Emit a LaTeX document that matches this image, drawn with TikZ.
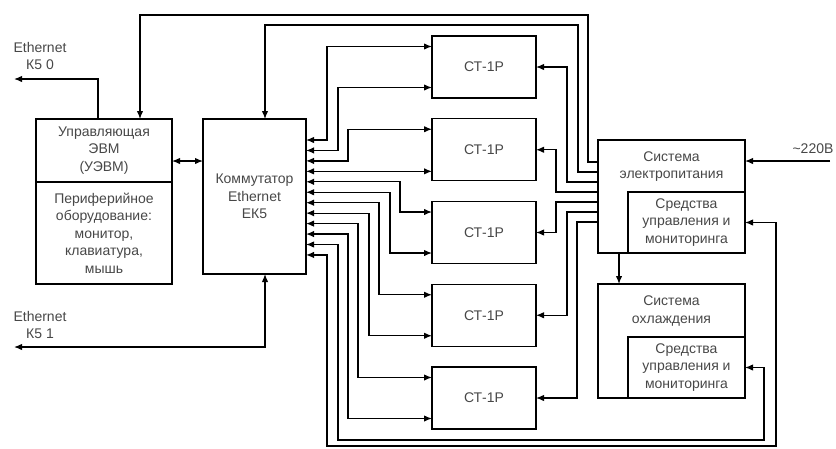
\documentclass[tikz,border=0pt]{standalone}
\usepackage{fontspec}
\setmainfont{Liberation Sans}
\usetikzlibrary{positioning, calc, arrows.meta}
\tikzset{
    blk/.style={draw, line width=1.3pt, inner sep=0pt, outer sep=0pt, align=center,
        font=\fontsize{14}{17.5}\selectfont, text=black!72},
    ctbox/.style={blk, minimum width=104pt, minimum height=62pt},
    txt/.style={inner sep=0pt, align=center, font=\fontsize{14}{17.5}\selectfont, text=black!72},
    link/.style={line width=1.3pt, -{Latex[length=8pt,width=6.5pt]}},
    link2/.style={line width=1.3pt, {Latex[length=8pt,width=6.5pt]}-{Latex[length=8pt,width=6.5pt]}}
}

\begin{document}
\begin{tikzpicture}[x=1pt, y=-1pt]
    \useasboundingbox (0,0) rectangle (836,448);

    % ---------------- CONTROL COMPUTER ---------------- %
    \node[blk, minimum width=136pt, minimum height=63pt] (uevm) at (104,150.5)
        {Управляющая\\ЭВМ\\(УЭВМ)};
    \node[blk, minimum width=136pt, minimum height=102pt, below=0pt of uevm] (periph)
        {Периферийное\\оборудование:\\монитор,\\клавиатура,\\мышь};

    % ---------------- SWITCH ---------------- %
    \node[blk, minimum width=103pt, minimum height=155pt] (sw) at (254.5,196.5)
        {Коммутатор\\Ethernet\\ЕК5};

    % ---------------- NODES CT-1P ---------------- %
    \foreach \i in {1,...,5}
        \node[ctbox] (ct\i) at (484,{67+82.75*(\i-1)}) {СТ-1Р};
    \foreach \i in {1,...,5} {
        \coordinate (ctu\i) at ($(ct\i.west)+(0,-20.5)$);
        \coordinate (ctd\i) at ($(ct\i.west)+(0,20.5)$);
    }

    % ---------------- POWER AND COOLING ---------------- %
    \node[blk, minimum width=147pt, minimum height=113pt] (pwr) at (671.5,196.5) {};
    \node[txt] (pwrtitle) at (671.5,166.5) {Система\\электропитания};
    \node[blk, minimum width=117pt, minimum height=61pt, anchor=south east] (pwrmon)
        at (pwr.south east) {Средства\\управления и\\мониторинга};

    \node[blk, minimum width=147pt, minimum height=114pt] (cool) at (671.5,341) {};
    \node[txt] (cooltitle) at (671.5,311) {Система\\охлаждения};
    \node[blk, minimum width=117pt, minimum height=61pt, anchor=south east] (coolmon)
        at (cool.south east) {Средства\\управления и\\мониторинга};

    % Ports
    \foreach \k in {0,...,11}
        \coordinate (p\k) at ($(sw.north east)+(0,{21+10.45*\k})$);
    \foreach \k in {0,...,6}
        \coordinate (q\k) at ($(pwr.north west)+(0,{22+10*\k})$);

    % ---------------- ETHERNET LINKS ---------------- %
    \coordinate (eth0) at (14,79);
    \coordinate (eth1) at (14,347);
    \node[txt] (eth0lbl) at (40,56) {Ethernet\\К5 0};
    \node[txt] (eth1lbl) at (40,325) {Ethernet\\К5 1};
    \draw[link] ($(uevm.north west)+(62,0)$) |- (eth0);
    \draw[link2] (eth1) -| ($(sw.south west)+(62,0)$);
    \draw[link2] ($(uevm.east)+(0,10.5)$) -- ($(sw.west)+(0,-35.5)$);

    % Switch to CT-1P
    \foreach \k/\dx/\tgt in {0/21/ctu1, 1/32/ctd1, 2/42/ctu2, 4/94/ctu3, 5/84/ctd3,
                             6/73/ctu4, 7/63/ctd4, 8/52/ctu5, 9/42/ctd5}
        \draw[link2] (p\k) -- ++(\dx,0) |- (\tgt);
    \draw[link2] (p3) -- (p3 -| ct2.west);

    % Switch to monitoring
    \draw[link2] (p10) -- ++(32,0) |- (764,440) |- (coolmon.east);
    \draw[link2] (p11) -- ++(21,0) |- (776,446) |- (pwrmon.east);

    % ---------------- POWER LINES ---------------- %
    \draw[link] (q0) -| (588,15) -| ($(uevm.north west)+(104,0)$);
    \draw[link] (q1) -| (578,25) -| ($(sw.north west)+(62,0)$);
    \draw[link] (q2) -- ++(-31,0) |- (ct1.east);
    \draw[link] (q3) -- ++(-42,0) |- (ct2.east);
    \draw[link] (q4) -- ++(-42,0) |- (ct3.east);
    \draw[link] (q5) -- ++(-31,0) |- (ct4.east);
    \draw[link] (q6) -- ++(-21,0) |- (ct5.east);

    % Mains input and cooling supply
    \coordinate (ac) at (830,161);
    \node[txt] (aclbl) at (813,149) {\textasciitilde 220В};
    \draw[link] (ac) -- (ac -| pwr.east);
    \draw[link] ($(pwr.south west)+(21,0)$) -- ($(cool.north west)+(21,0)$);
\end{tikzpicture}
\end{document}
